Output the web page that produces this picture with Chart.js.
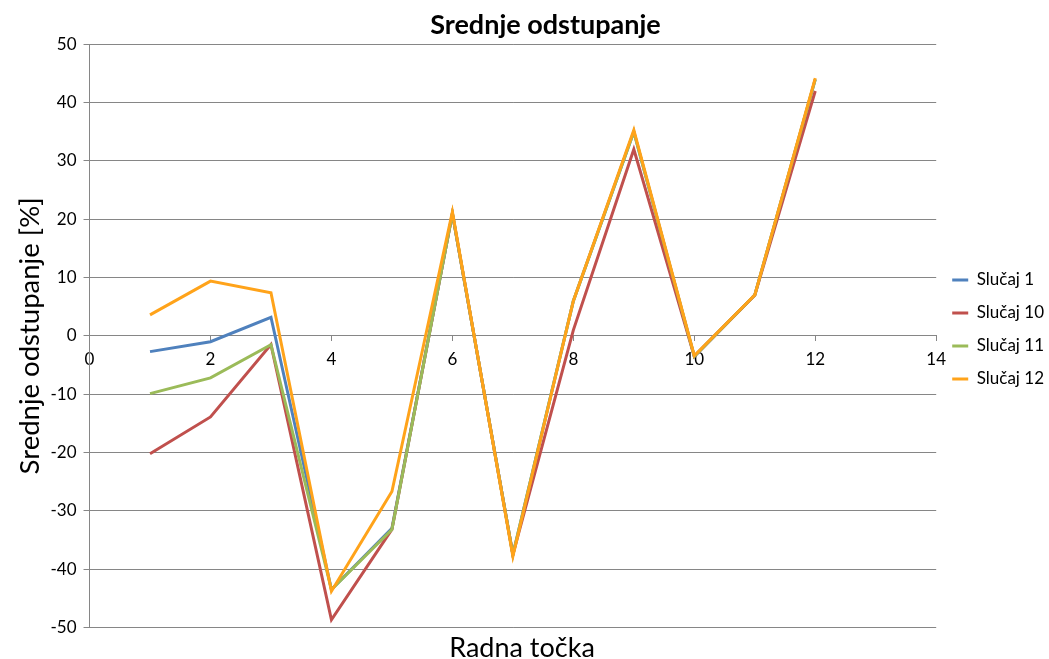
<!DOCTYPE html>
<html>
<head>
<meta charset="utf-8">
<script src="https://cdn.jsdelivr.net/npm/chart.js@4/dist/chart.umd.min.js"></script>
<style>
  html, body { margin: 0; padding: 0; background: #fff; }
  #wrap { width: 1049px; height: 659px; position: relative; }
</style>
</head>
<body>
<div id="wrap"><canvas id="c" width="1049" height="659"></canvas></div>
<script>
const xPoints = [1, 2, 3, 4, 5, 6, 7, 8, 9, 10, 11, 12];
const seriesNames = ['Slučaj 1', 'Slučaj 10', 'Slučaj 11', 'Slučaj 12'];
const slucaj1  = [-2.7, -1.0, 3.2, -43.5, -33.0, 21.0, -37.5, 6.0, 35.0, -3.5, 7.0, 44.0];
const slucaj10 = [-20.2, -13.9, -1.5, -48.7, -33.2, 21.0, -37.5, 1.0, 32.0, -3.5, 7.0, 42.0];
const slucaj11 = [-9.9, -7.2, -1.5, -43.5, -33.2, 21.0, -37.5, 6.0, 35.0, -3.5, 7.0, 44.0];
const slucaj12 = [3.6, 9.4, 7.4, -43.8, -26.7, 21.3, -37.8, 6.0, 35.3, -3.4, 7.0, 44.2];
const colors = ['#4F81BD', '#C0504D', '#9BBB59', '#FFA31A'];
const chartTitle = 'Srednje odstupanje';
const xTitle = 'Radna točka';
const yTitle = 'Srednje odstupanje [%]';

const FONT = 'Lato, "Open Sans", sans-serif';
const allSeries = [slucaj1, slucaj10, slucaj11, slucaj12];

const datasets = allSeries.map((vals, i) => ({
  label: seriesNames[i],
  data: xPoints.map((x, j) => ({ x: x, y: vals[j] })),
  borderColor: colors[i],
  backgroundColor: colors[i],
  borderWidth: 3,
  pointRadius: 0,
  pointHoverRadius: 0,
  showLine: true,
  fill: false,
  tension: 0,
  order: allSeries.length - i
}));

// shift horizontally-centred title blocks to match the reference placement
const titleShift = {
  id: 'titleShift',
  afterLayout(chart) {
    chart.boxes.forEach(b => {
      if (!b.options || typeof b.options.text !== 'string') return;
      if (b.options.text === chartTitle) { b.left += 37; }
      if (b.options.text === xTitle) { b.right -= 10; }
    });
  }
};

new Chart(document.getElementById('c'), {
  type: 'scatter',
  data: { datasets: datasets },
  plugins: [titleShift],
  options: {
    responsive: false,
    animation: false,
    devicePixelRatio: 1,
    layout: { padding: { top: 0, right: -5, left: 0, bottom: 0 } },
    plugins: {
      tooltip: { enabled: false },
      title: {
        display: true,
        text: chartTitle,
        color: '#000',
        font: { family: FONT, size: 27, weight: 'bold', lineHeight: 1.2 },
        padding: { top: 9, bottom: 3 }
      },
      subtitle: {
        display: true,
        position: 'bottom',
        text: xTitle,
        color: '#000',
        font: { family: FONT, size: 27, weight: 'normal', lineHeight: 0.8 },
        padding: { top: 10, bottom: 0 }
      },
      legend: {
        position: 'right',
        align: 'center',
        labels: {
          usePointStyle: true,
          pointStyle: 'line',
          pointStyleWidth: 16,
          color: '#000',
          font: { family: FONT, size: 17 },
          padding: 16,
          sort: (a, b) => a.datasetIndex - b.datasetIndex
        }
      }
    },
    scales: {
      x: {
        type: 'linear',
        position: { y: 0 },
        min: 0,
        max: 14,
        ticks: { stepSize: 2, color: '#000', font: { family: FONT, size: 17 }, padding: 8 },
        grid: { drawOnChartArea: false, drawTicks: true, tickLength: 5, color: '#868686' },
        border: { color: '#868686', width: 1 }
      },
      y: {
        type: 'linear',
        min: -50,
        max: 50,
        ticks: { stepSize: 10, color: '#000', font: { family: FONT, size: 17 }, padding: 7 },
        grid: { color: '#868686', lineWidth: 1, tickLength: 6 },
        border: { color: '#868686', width: 1 },
        title: {
          display: true,
          text: yTitle,
          color: '#000',
          font: { family: FONT, size: 27.5, lineHeight: 1.0 },
          padding: { top: 16, bottom: 0 }
        }
      }
    }
  }
});
</script>
</body>
</html>
